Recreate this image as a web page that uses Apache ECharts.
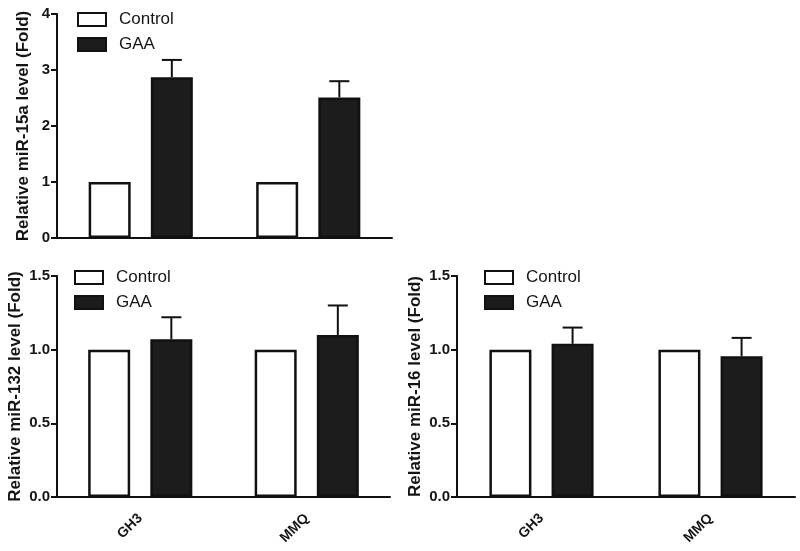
<!DOCTYPE html>
<html>
<head>
<meta charset="utf-8">
<script src="https://cdn.jsdelivr.net/npm/echarts@6/dist/echarts.min.js"></script>
<style>
html,body{margin:0;padding:0;background:#fff;}
#chart{width:800px;height:551px;}
</style>
</head>
<body>
<div id="chart"></div>
<script>
// ---- data ----
var categories = ['GH3', 'MMQ'];
var seriesNames = ['Control', 'GAA'];

var mir15aControl = [1, 1];
var mir15aGAA = [2.87, 2.51];
var mir15aErr = [0.31, 0.29];

var mir132Control = [1, 1];
var mir132GAA = [1.07, 1.10];
var mir132Err = [0.15, 0.20];

var mir16Control = [1, 1];
var mir16GAA = [1.04, 0.955];
var mir16Err = [0.11, 0.125];

var yTitles = ['Relative miR-15a level (Fold)', 'Relative miR-132 level (Fold)', 'Relative miR-16 level (Fold)'];
var yMax = [4, 1.5, 1.5];
var yStep = [1, 0.5, 0.5];

// ---- styles ----
var FONT = '"Liberation Sans", Arial, sans-serif';
var TXT = '#151515';
var BAR_W = 42;
var GAP_PCT = 48;
var offsetPx = (BAR_W + BAR_W * GAP_PCT / 100) / 2;

var chart = echarts.init(document.getElementById('chart'));

var grids = [
  {left: 57, top: 14, width: 335, height: 224},
  {left: 57, top: 276, width: 333, height: 221},
  {left: 457, top: 276, width: 338, height: 221}
];

var xAxes = grids.map(function (g, i) {
  return {
    type: 'category', gridIndex: i, data: categories,
    axisLine: {lineStyle: {color: '#111', width: 2}},
    axisTick: {alignWithLabel: true, length: 6, lineStyle: {color: '#111', width: 2}},
    axisLabel: i === 0 ? {show: false} : {
      rotate: 45, margin: 19, color: TXT, fontFamily: FONT, fontWeight: 'bold', fontSize: 14
    }
  };
});

var yAxes = grids.map(function (g, i) {
  return {
    type: 'value', gridIndex: i, min: 0, max: yMax[i], interval: yStep[i],
    name: yTitles[i], nameLocation: 'middle', nameRotate: 90,
    nameGap: i === 0 ? 25 : 33,
    nameTextStyle: {color: TXT, fontFamily: FONT, fontWeight: 'bold', fontSize: 17},
    axisLine: {show: true, lineStyle: {color: '#111', width: 2}},
    axisTick: {show: true, length: 6, lineStyle: {color: '#111', width: 2}},
    splitLine: {show: false},
    axisLabel: {
      color: TXT, fontFamily: FONT, fontWeight: 'bold', fontSize: 15, margin: 7,
      formatter: function (v) { return i === 0 ? String(v) : v.toFixed(1); }
    }
  };
});

var panels = [
  [mir15aControl, mir15aGAA, mir15aErr],
  [mir132Control, mir132GAA, mir132Err],
  [mir16Control, mir16GAA, mir16Err]
];

function errRender(errArr) {
  return function (params, api) {
    var idx = api.value(0);
    var val = api.value(1);
    var e = errArr[params.dataIndex];
    var base = api.coord([idx, val]);
    var top = api.coord([idx, val + e]);
    var x = base[0] + offsetPx;
    var style = {stroke: '#111', lineWidth: 2};
    return {
      type: 'group',
      children: [
        {type: 'line', shape: {x1: x, y1: base[1], x2: x, y2: top[1]}, style: style},
        {type: 'line', shape: {x1: x - 10, y1: top[1], x2: x + 10, y2: top[1]}, style: style}
      ]
    };
  };
}

var series = [];
panels.forEach(function (p, i) {
  series.push({
    name: seriesNames[0], type: 'bar', xAxisIndex: i, yAxisIndex: i,
    data: p[0], barWidth: BAR_W, barGap: GAP_PCT + '%',
    itemStyle: {color: '#ffffff', borderColor: '#111', borderWidth: 2.5},
    emphasis: {disabled: true}
  });
  series.push({
    name: seriesNames[1], type: 'bar', xAxisIndex: i, yAxisIndex: i,
    data: p[1], barWidth: BAR_W, barGap: GAP_PCT + '%',
    itemStyle: {color: '#1c1c1c', borderColor: '#111', borderWidth: 2.5},
    emphasis: {disabled: true}
  });
  series.push({
    name: 'err' + i, type: 'custom', xAxisIndex: i, yAxisIndex: i,
    data: p[1].map(function (v, k) { return [k, v]; }),
    renderItem: errRender(p[2]), z: 5, silent: true
  });
});

var legendPos = [
  {left: 72, top: 6},
  {left: 69, top: 264},
  {left: 479, top: 264}
];
var legends = legendPos.map(function (lp) {
  return {
    left: lp.left, top: lp.top, orient: 'vertical', data: seriesNames,
    icon: 'rect', itemWidth: 28, itemHeight: 13, itemGap: 8,
    selectedMode: false,
    textStyle: {color: TXT, fontFamily: FONT, fontSize: 17, padding: [0, 0, 0, 8]}
  };
});

chart.setOption({
  animation: false,
  backgroundColor: '#ffffff',
  grid: grids,
  xAxis: xAxes,
  yAxis: yAxes,
  legend: legends,
  series: series
});
</script>
</body>
</html>
